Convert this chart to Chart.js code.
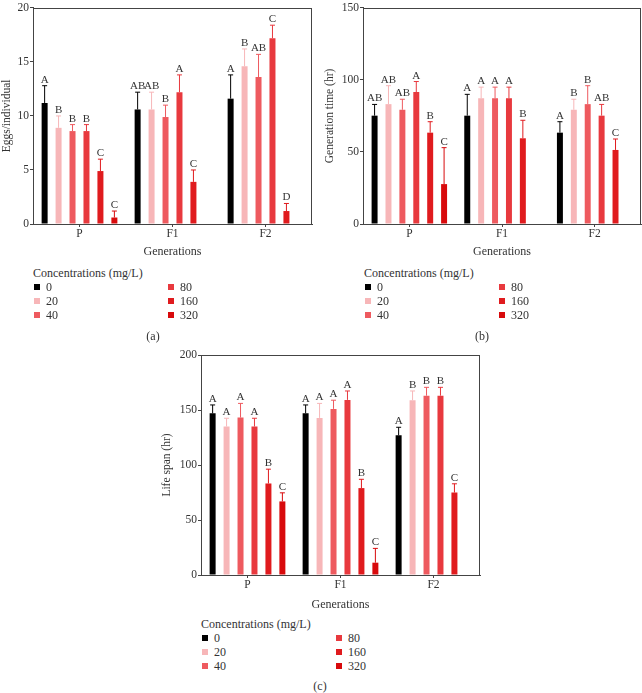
<!DOCTYPE html>
<html>
<head>
<meta charset="utf-8">
<script src="https://cdn.jsdelivr.net/npm/chart.js@4.4.1/dist/chart.umd.min.js"></script>
<style>
    body { margin: 0; background: #fff; }
    #page { position: relative; width: 642px; height: 693px; overflow: hidden; font-family: 'Liberation Serif', 'DejaVu Serif', serif; color: #333; }
    canvas { position: absolute; }
    .lg { position: absolute; height: 14px; line-height: 14px; font-family: 'Liberation Serif', serif; font-size: 12px; white-space: nowrap; }
    .sw { position: absolute; left: 0; top: 4px; width: 6px; height: 6px; }
    .caption { position: absolute; width: 40px; margin-left: -20px; text-align: center; height: 14px; line-height: 14px; font-family: 'Liberation Serif', serif; font-size: 12px; }
</style>
</head>
<body>
<div id="page">
    <canvas id="eggsChart" width="320" height="262" style="left:0;top:0"></canvas>
    <canvas id="genChart" width="320" height="262" style="left:322px;top:0"></canvas>
    <canvas id="lifeChart" width="330" height="275" style="left:160px;top:340px"></canvas>
</div>
<script>
// Categories and series
const generations = ['P', 'F1', 'F2'];
const concentrations = ['0', '20', '40', '80', '160', '320'];
const legendTitle = 'Concentrations (mg/L)';

// (a) Eggs/individual — rows are concentrations, columns are P, F1, F2
const eggsMean = [
    [11.2, 10.6, 11.6],
    [8.9, 10.6, 14.6],
    [8.6, 9.9, 13.6],
    [8.6, 12.2, 17.2],
    [4.9, 3.9, 1.2],
    [0.6, null, null]
];
const eggsSd = [
    [1.6, 1.6, 2.2],
    [1.1, 1.6, 1.6],
    [0.6, 1.1, 2.1],
    [0.6, 1.6, 1.2],
    [1.1, 1.1, 0.7],
    [0.6, null, null]
];
const eggsLetters = [
    ['A', 'AB', 'A'],
    ['B', 'AB', 'B'],
    ['B', 'B', 'AB'],
    ['B', 'A', 'C'],
    ['C', 'C', 'D'],
    ['C', '', '']
];

// (b) Generation time (hr)
const genMean = [
    [75.2, 75.2, 63.4],
    [83.2, 87.3, 79.3],
    [79.3, 87.3, 83.2],
    [91.6, 87.3, 75.2],
    [63.4, 59.5, 51.4],
    [27.7, null, null]
];
const genSd = [
    [7.8, 14.8, 7.6],
    [12.8, 7.7, 7.3],
    [7.3, 7.7, 12.8],
    [7.3, 7.7, 7.8],
    [7.6, 12.5, 7.6],
    [25.3, null, null]
];
const genLetters = [
    ['AB', 'A', 'A'],
    ['AB', 'A', 'B'],
    ['AB', 'A', 'B'],
    ['A', 'A', 'AB'],
    ['B', 'B', 'C'],
    ['C', '', '']
];

// (c) Life span (hr)
const lifeMean = [
    [147, 147, 127],
    [135, 142.8, 158.9],
    [143.1, 151, 163],
    [135, 159.2, 163],
    [83.2, 79, 75],
    [66.9, 11.2, null]
];
const lifeSd = [
    [7.6, 7.6, 7.3],
    [7.5, 13.2, 8.4],
    [12.9, 7.9, 7.6],
    [7.5, 8.1, 7.6],
    [13, 8, 7.9],
    [7.8, 13, null]
];
const lifeLetters = [
    ['A', 'A', 'A'],
    ['A', 'A', 'B'],
    ['A', 'A', 'B'],
    ['A', 'A', 'B'],
    ['B', 'B', 'C'],
    ['C', 'C', '']
];

const barColors = ['#000000', '#f7b6b8', '#ee5a5f', '#e8393e', '#e01b1e', '#d80a0c'];
const FONT = 'Liberation Serif';
const AXIS = '#444444';
const TEXT = '#333333';

/**
 * Error bars (upper only) and significance letters
 */
const errorBars = {
    id: 'errorBars',
    afterDatasetsDraw(chart) {
        const ctx = chart.ctx;
        const yScale = chart.scales.y;
        ctx.save();
        chart.data.datasets.forEach((ds, i) => {
            const meta = chart.getDatasetMeta(i);
            meta.data.forEach((bar, j) => {
                const v = ds.data[j];
                if (v == null) return;
                const top = yScale.getPixelForValue(v + ds.sd[j]);
                ctx.strokeStyle = ds.backgroundColor;
                ctx.lineWidth = 1;
                ctx.beginPath();
                ctx.moveTo(bar.x, bar.y);
                ctx.lineTo(bar.x, top);
                ctx.moveTo(bar.x - 2.5, top);
                ctx.lineTo(bar.x + 2.5, top);
                ctx.stroke();

                ctx.fillStyle = TEXT;
                ctx.font = '11px "' + FONT + '"';
                ctx.textAlign = 'center';
                ctx.textBaseline = 'alphabetic';
                ctx.fillText(ds.letters[j], bar.x, top - 3);
            });
        });
        ctx.restore();
    }
};

/**
 * Frame around the plot area
 */
const frameBox = {
    id: 'frameBox',
    afterDraw(chart) {
        const a = chart.chartArea;
        const ctx = chart.ctx;
        ctx.save();
        ctx.strokeStyle = AXIS;
        ctx.lineWidth = 1;
        ctx.strokeRect(Math.round(a.left) + 0.5, Math.round(a.top) + 0.5,
            Math.round(a.right - a.left) - 1, Math.round(a.bottom - a.top));
        ctx.restore();
    }
};

function makePanel(id, means, sds, letters, yTitle, yMax, yStep, g) {
    const datasets = concentrations.map((c, i) => ({
        label: c,
        data: means[i],
        sd: sds[i],
        letters: letters[i],
        backgroundColor: barColors[i],
        borderWidth: 0,
        categoryPercentage: 0.9,
        barPercentage: 0.43
    }));

    return new Chart(document.getElementById(id), {
        type: 'bar',
        data: { labels: generations, datasets: datasets },
        options: {
            responsive: false,
            animation: false,
            layout: { padding: { top: g.pt, right: g.pr, left: 0, bottom: 0 } },
            plugins: {
                legend: { display: false },
                tooltip: { enabled: false }
            },
            scales: {
                x: {
                    grid: { display: true, drawOnChartArea: false, drawTicks: true, tickLength: 3, offset: false, color: AXIS },
                    border: { display: true, color: AXIS },
                    ticks: { color: TEXT, font: { family: FONT, size: 11.5 }, padding: 0 },
                    title: {
                        display: true, text: 'Generations', color: TEXT,
                        font: { family: FONT, size: 12 }, padding: { top: 0, bottom: g.xtb }
                    },
                    afterFit(s) { s.height = g.xh; }
                },
                y: {
                    min: 0,
                    max: yMax,
                    ticks: { stepSize: yStep, color: TEXT, font: { family: FONT, size: 11.5 }, padding: 1 },
                    grid: { display: true, drawOnChartArea: false, drawTicks: true, tickLength: 3, color: AXIS },
                    border: { display: true, color: AXIS },
                    title: {
                        display: true, text: yTitle, color: TEXT,
                        font: { family: FONT, size: 11.5 }, padding: { top: g.ytp, bottom: 0 }
                    },
                    afterFit(s) { s.width = g.yw; }
                }
            }
        },
        plugins: [errorBars, frameBox]
    });
}

/**
 * HTML legend: two columns, filled column by column
 */
function buildLegend(left, top, caption, capX, capY) {
    const page = document.getElementById('page');
    const title = document.createElement('div');
    title.className = 'lg';
    title.style.left = left + 'px';
    title.style.top = (top - 7) + 'px';
    title.textContent = legendTitle;
    page.appendChild(title);

    concentrations.forEach((c, i) => {
        const col = Math.floor(i / 3);
        const row = i % 3;
        const item = document.createElement('div');
        item.className = 'lg';
        item.style.left = (left + 1 + col * 134) + 'px';
        item.style.top = (top + 14 * (row + 1) - 7) + 'px';
        const sw = document.createElement('span');
        sw.className = 'sw';
        sw.style.background = barColors[i];
        const txt = document.createElement('span');
        txt.style.marginLeft = '12px';
        txt.textContent = c;
        item.appendChild(sw);
        item.appendChild(txt);
        page.appendChild(item);
    });

    const cap = document.createElement('div');
    cap.className = 'caption';
    cap.style.left = capX + 'px';
    cap.style.top = (capY - 7) + 'px';
    cap.textContent = caption;
    page.appendChild(cap);
}

makePanel('eggsChart', eggsMean, eggsSd, eggsLetters, 'Eggs/individual', 20, 5,
    { pt: 3, pr: 8, xh: 38, xtb: 3, yw: 33, ytp: 0 });
makePanel('genChart', genMean, genSd, genLetters, 'Generation time (hr)', 150, 50,
    { pt: 3, pr: 1, xh: 38, xtb: 3, yw: 41, ytp: 1.5 });
makePanel('lifeChart', lifeMean, lifeSd, lifeLetters, 'Life span (hr)', 200, 50,
    { pt: 15, pr: 10, xh: 40, xtb: 3, yw: 41, ytp: 0.5 });

buildLegend(33, 272.5, '(a)', 153, 336);
buildLegend(364, 272.5, '(b)', 482, 336);
buildLegend(201, 624, '(c)', 320, 686);
</script>
</body>
</html>
